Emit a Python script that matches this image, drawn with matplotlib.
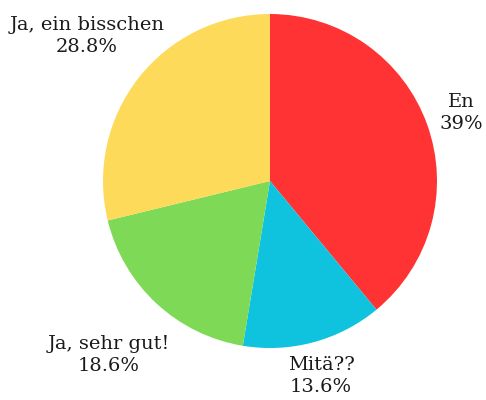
import matplotlib
matplotlib.use("Agg")
import matplotlib.pyplot as plt

categories = ["En", "Mitä??", "Ja, sehr gut!", "Ja, ein bisschen"]
values = [39.0, 13.6, 18.6, 28.8]
pct_labels = ["39%", "13.6%", "18.6%", "28.8%"]
colors = ["#FF3333", "#0FC2DE", "#7ED957", "#FDDA5A"]

W, H = 486, 400
fig = plt.figure(figsize=(W / 100, H / 100), dpi=100)
ax = fig.add_axes([0, 0, 1, 1])

cx, cy, r = 270, H - 181, 167
ax.pie(values, colors=colors, startangle=90, counterclock=False,
       center=(cx, cy), radius=r, frame=True,
       wedgeprops=dict(linewidth=0))
ax.set_xlim(0, W)
ax.set_ylim(0, H)
ax.set_aspect("equal")
ax.axis("off")

label_pos = [(461, 113), (321, 376), (109, 355), (87, 36)]
for cat, pct, (x, y) in zip(categories, pct_labels, label_pos):
    ax.text(x, H - y, f"{cat}\n{pct}", ha="center", va="center",
            fontsize=14, family="DejaVu Serif", color="#1a1a1a",
            linespacing=1.35)

fig.savefig("out.png", dpi=100)
